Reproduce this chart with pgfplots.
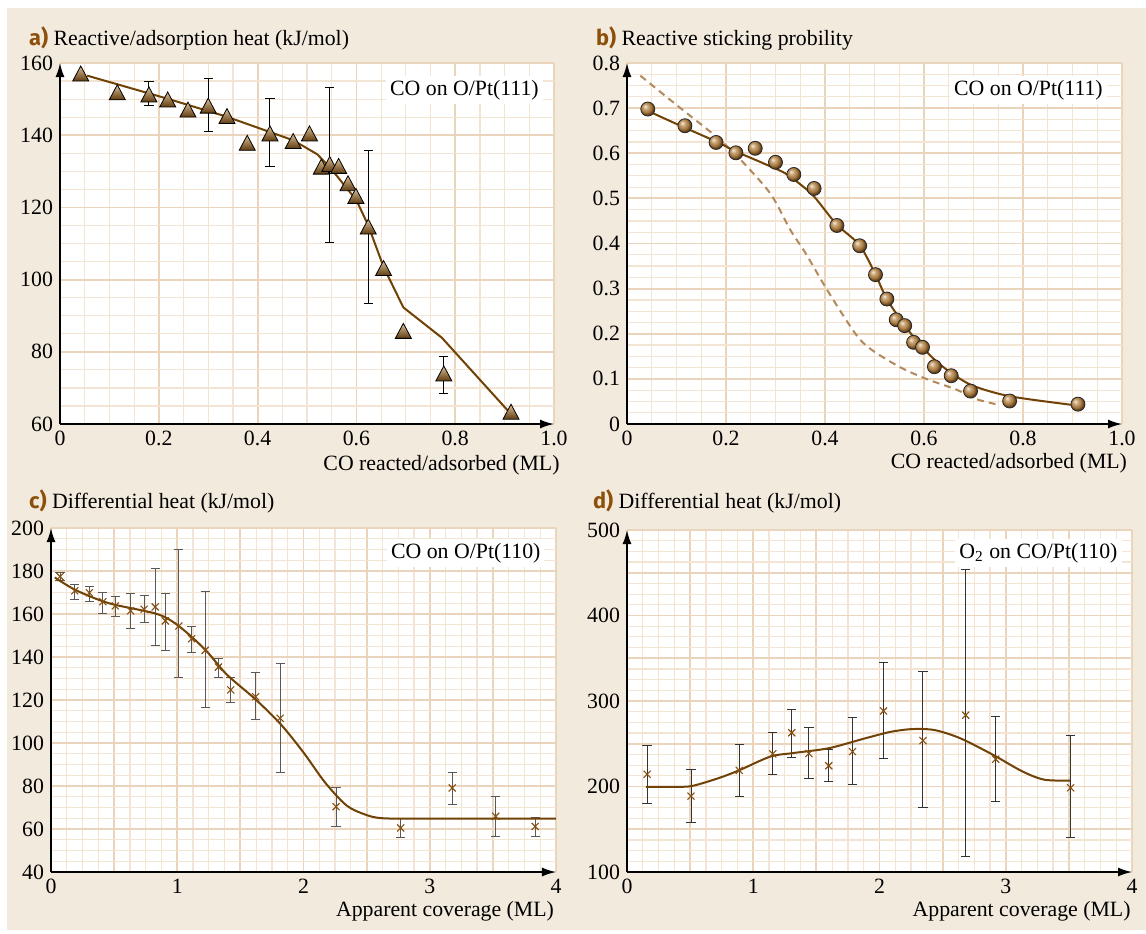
\documentclass[border=0pt]{standalone}
\usepackage{fontspec}
\setmainfont{Liberation Serif}
\newfontfamily\lettfont{Fira Sans}
\usepackage{pgfplots}
\pgfplotsset{compat=1.18}
\usetikzlibrary{arrows.meta}

\definecolor{bg}{RGB}{243,234,222}
\definecolor{gridmaj}{RGB}{234,213,188}
\definecolor{gridmin}{RGB}{243,228,211}
\definecolor{curve}{RGB}{112,66,6}
\definecolor{dashc}{RGB}{178,138,92}
\definecolor{xmk}{RGB}{135,80,15}
\definecolor{lett}{RGB}{140,80,10}
\definecolor{tritop}{RGB}{220,192,150}
\definecolor{tribot}{RGB}{95,58,15}
\definecolor{ballc}{RGB}{165,120,65}
\definecolor{ballhi}{RGB}{245,235,220}
\definecolor{ballmid}{RGB}{200,165,120}
\definecolor{balldk}{RGB}{100,65,25}

\pgfdeclareverticalshading{trishade}{100bp}{color(0bp)=(tribot); color(25bp)=(tribot); color(75bp)=(tritop); color(100bp)=(tritop)}
\pgfdeclareradialshading{brball}{\pgfpoint{-10bp}{10bp}}{color(0bp)=(ballhi); color(9bp)=(ballmid); color(18bp)=(ballc); color(25bp)=(balldk); color(50bp)=(black)}

\pgfdeclareplotmark{shtri}{%
  \pgfpathmoveto{\pgfpoint{0pt}{\pgfplotmarksize}}%
  \pgfpathlineto{\pgfpoint{-1.07\pgfplotmarksize}{-\pgfplotmarksize}}%
  \pgfpathlineto{\pgfpoint{1.07\pgfplotmarksize}{-\pgfplotmarksize}}%
  \pgfpathclose
  \pgfshadepath{trishade}{0}%
  \pgfpathmoveto{\pgfpoint{0pt}{\pgfplotmarksize}}%
  \pgfpathlineto{\pgfpoint{-1.07\pgfplotmarksize}{-\pgfplotmarksize}}%
  \pgfpathlineto{\pgfpoint{1.07\pgfplotmarksize}{-\pgfplotmarksize}}%
  \pgfpathclose
  \pgfusepathqstroke
}
\pgfdeclareplotmark{shball}{%
  \pgfpathcircle{\pgfpointorigin}{\pgfplotmarksize}%
  \pgfshadepath{brball}{0}%
  \pgfpathcircle{\pgfpointorigin}{\pgfplotmarksize}%
  \pgfusepathqstroke
}

\newcommand{\tf}{\rmfamily\fontsize{10.9}{12}\selectfont}

\pgfplotsset{
  panel/.style={
    scale only axis, anchor=south west,
    axis lines=left,
    axis line style={line width=0.8pt, -{Latex[length=7pt,width=4.5pt]}},
    axis background/.style={fill=white},
    grid=both,
    major grid style={draw=gridmaj, line width=0.9pt},
    minor grid style={draw=gridmin, line width=0.6pt},
    major tick length=0pt, minor tick length=0pt,
    tick label style={font=\tf},
    clip=false,
  },
  ebar/.style={draw=none, mark=none, forget plot,
    error bars/.cd, y dir=both, y explicit,
    error bar style={draw=#1, line width=0.5pt},
    error mark options={rotate=90, draw=#1, mark size=2.3pt, line width=0.5pt}},
}

\begin{document}
\begin{tikzpicture}
\useasboundingbox (0,0) rectangle (573pt,-466.5pt);
\fill[bg] (3.5pt,-4pt) rectangle (573pt,-465pt);

% ---------------- a
\node[anchor=west, font=\tf] at (11pt,-19pt) {{\lettfont\bfseries\color{lett}a)} Reactive/adsorption heat (kJ/mol)};
\node[anchor=east, font=\tf] at (283.3pt,-232.5pt) {CO reacted/adsorbed (ML)};
\begin{axis}[panel, at={(30pt,-212pt)}, width=247pt, height=180.5pt,
  xmin=0, xmax=1, ymin=60, ymax=160,
  xtick={0,0.2,0.4,0.6,0.8,1}, xticklabels={0,0.2,0.4,0.6,0.8,1.0},
  ytick={60,80,100,120,140,160}, yticklabels={60,80,100,120,140,160},
  minor x tick num=3, minor y tick num=3]
\addplot[curve, line width=1pt] table {
0.055 156.5
0.218 150.1
0.338 145.1
0.472 138.6
0.521 134.7
0.550 130.5
0.600 122.0
0.624 115.0
0.655 103.5
0.695 92.3
0.773 83.9
0.906 63.8
};
\addplot[ebar=black] table[x=x, y=y, y error plus=ep, y error minus=em] {
x y ep em
0.180 151.3 3.5 3.1
0.300 148.2 7.4 7.2
0.425 140.5 9.7 9.1
0.546 132.0 21.3 21.8
0.624 114.7 21.2 21.3
0.777 74.0 4.8 5.6
};
\addplot[only marks, mark=shtri, mark size=3.75pt, mark options={draw=black, line width=0.4pt}] table {
0.042 157.1
0.116 151.9
0.180 151.3
0.218 149.9
0.259 147.1
0.300 148.2
0.338 145.3
0.379 137.9
0.425 140.5
0.472 138.4
0.505 140.5
0.529 131.3
0.546 132.0
0.564 131.5
0.583 126.7
0.599 123.2
0.624 114.7
0.655 103.2
0.695 85.8
0.777 74.0
0.913 63.4
};
\node[fill=white, inner sep=2pt, anchor=east, font=\tf] at (rel axis cs:0.978,0.925) {CO on O/Pt(111)};
\end{axis}

% ---------------- b
\node[anchor=west, font=\tf] at (294.5pt,-19pt) {{\lettfont\bfseries\color{lett}b)} Reactive sticking probility};
\node[anchor=east, font=\tf] at (567pt,-231.5pt) {CO reacted/adsorbed (ML)};
\begin{axis}[panel, at={(313.5pt,-212pt)}, width=247.5pt, height=180.5pt,
  xmin=0, xmax=1, ymin=0, ymax=0.8,
  xtick={0,0.2,0.4,0.6,0.8,1}, xticklabels={0,0.2,0.4,0.6,0.8,1.0},
  ytick={0,0.1,0.2,0.3,0.4,0.5,0.6,0.7,0.8}, yticklabels={0,0.1,0.2,0.3,0.4,0.5,0.6,0.7,0.8},
  minor x tick num=3, minor y tick num=3]
\addplot[dashc, line width=1pt, dash pattern=on 3.5pt off 2.5pt, smooth, tension=0.5] table {
0.027 0.772
0.100 0.707
0.180 0.637
0.230 0.585
0.290 0.510
0.330 0.430
0.360 0.380
0.400 0.305
0.440 0.235
0.470 0.188
0.500 0.160
0.555 0.124
0.607 0.099
0.666 0.076
0.703 0.056
0.745 0.044
};
\addplot[curve, line width=1pt, smooth, tension=0.5] table {
0.042 0.694
0.112 0.659
0.180 0.626
0.220 0.604
0.275 0.578
0.319 0.556
0.348 0.533
0.378 0.504
0.423 0.443
0.470 0.396
0.502 0.331
0.525 0.277
0.561 0.218
0.597 0.170
0.629 0.135
0.666 0.105
0.703 0.083
0.776 0.061
0.909 0.041
};
\addplot[only marks, mark=shball, mark size=3.5pt, mark options={draw=black!85, line width=0.4pt}] table {
0.042 0.698
0.117 0.661
0.180 0.624
0.220 0.601
0.259 0.611
0.300 0.580
0.337 0.553
0.378 0.522
0.424 0.440
0.470 0.395
0.502 0.331
0.525 0.277
0.544 0.231
0.561 0.218
0.579 0.181
0.597 0.170
0.621 0.127
0.655 0.107
0.694 0.073
0.773 0.051
0.911 0.044
};
\node[fill=white, inner sep=2pt, anchor=east, font=\tf] at (rel axis cs:0.970,0.925) {CO on O/Pt(111)};
\end{axis}

% ---------------- c
\node[anchor=west, font=\tf] at (11pt,-250.8pt) {{\lettfont\bfseries\color{lett}c)} Differential heat (kJ/mol)};
\node[anchor=east, font=\tf] at (280.5pt,-455.8pt) {Apparent coverage (ML)};
\begin{axis}[panel, at={(25.5pt,-436pt)}, width=252.5pt, height=172pt,
  xmin=0, xmax=4, ymin=40, ymax=200,
  xtick={0,0.5,...,4}, xticklabels={0,,1,,2,,3,,4},
  ytick={40,60,...,200}, yticklabels={40,60,80,100,120,140,160,180,200},
  minor x tick num=3, minor y tick num=3]
\addplot[ebar=black!65] table[x=x, y=y, y error plus=ep, y error minus=em] {
x y ep em
0.072 177.4 1.9 1.6
0.188 170.8 2.7 4.0
0.304 169.9 3.1 4.2
0.411 165.7 4.2 5.5
0.509 163.8 4.2 5.1
0.631 161.5 8.1 8.3
0.738 162.2 6.6 6.3
0.825 163.3 18.0 17.9
0.906 156.8 12.8 13.7
1.013 154.4 35.5 23.8
1.114 148.5 5.9 6.5
1.221 143.1 27.6 26.7
1.326 135.3 3.9 4.7
1.424 124.7 5.6 5.9
1.621 121.5 11.1 10.6
1.815 111.5 25.3 25.2
2.258 70.4 9.0 9.1
2.770 60.5 4.5 4.3
3.178 79.1 7.2 7.6
3.522 65.9 9.2 9.2
3.835 61.2 4.0 4.5
};
\addplot[curve, line width=1pt, smooth, tension=0.5] table {
0.03 177.0
0.20 171.0
0.46 165.0
0.84 160.0
1.01 154.5
1.22 143.5
1.39 132.0
1.62 120.3
1.82 108.7
2.00 95.6
2.17 81.7
2.34 71.0
2.49 66.7
2.63 65.0
3.00 64.8
4.00 64.8
};
\addplot[only marks, mark=x, mark size=2.5pt, mark options={draw=xmk, line width=0.55pt}] table {
0.072 177.4
0.188 170.8
0.304 169.9
0.411 165.7
0.509 163.8
0.631 161.5
0.738 162.2
0.825 163.3
0.906 156.8
1.013 154.4
1.114 148.5
1.221 143.1
1.326 135.3
1.424 124.7
1.621 121.5
1.815 111.5
2.258 70.4
2.770 60.5
3.178 79.1
3.522 65.9
3.835 61.2
};
\node[fill=white, inner sep=2pt, anchor=east, font=\tf] at (rel axis cs:0.978,0.927) {CO on O/Pt(110)};
\end{axis}

% ---------------- d
\node[anchor=west, font=\tf] at (293pt,-250.8pt) {{\lettfont\bfseries\color{lett}d)} Differential heat (kJ/mol)};
\node[anchor=east, font=\tf] at (568.8pt,-455.8pt) {Apparent coverage (ML)};
\begin{axis}[panel, at={(313.5pt,-436pt)}, width=252.5pt, height=171pt,
  xmin=0, xmax=4, ymin=100, ymax=500,
  xtick={0,0.5,...,4}, xticklabels={0,,1,,2,,3,,4},
  ytick={100,150,...,500}, yticklabels={100,,200,,300,,400,,500},
  minor x tick num=3, minor y tick num=3]
\addplot[ebar=black!80] table[x=x, y=y, y error plus=ep, y error minus=em] {
x y ep em
0.159 214.3 33.2 33.6
0.507 188.8 30.9 30.9
0.889 218.9 29.7 30.1
1.155 238.2 25.1 24.3
1.305 262.9 27.4 28.5
1.441 238.6 30.1 29.7
1.598 224.3 19.3 18.1
1.786 240.9 39.4 38.6
2.032 288.4 57.1 55.2
2.344 253.7 80.8 78.0
2.683 283.4 169.9 164.9
2.920 232.0 49.5 49.4
3.514 198.5 60.6 58.3
};
\addplot[curve, line width=1pt, smooth, tension=0.5] table {
0.15 199.6
0.41 199.6
0.527 201.0
0.729 210.0
0.889 219.0
1.135 235.0
1.308 239.0
1.598 244.8
1.887 256.4
2.090 264.0
2.263 267.2
2.437 266.0
2.640 256.4
2.900 237.0
3.130 217.8
3.305 208.0
3.508 207.0
};
\addplot[only marks, mark=x, mark size=2.5pt, mark options={draw=xmk, line width=0.55pt}] table {
0.159 214.3
0.507 188.8
0.889 218.9
1.155 238.2
1.305 262.9
1.441 238.6
1.598 224.3
1.786 240.9
2.032 288.4
2.344 253.7
2.683 283.4
2.920 232.0
3.514 198.5
};
\node[fill=white, inner sep=2pt, anchor=east, font=\tf] at (rel axis cs:0.980,0.933) {O\textsubscript{2} on CO/Pt(110)};
\end{axis}
\end{tikzpicture}
\end{document}
